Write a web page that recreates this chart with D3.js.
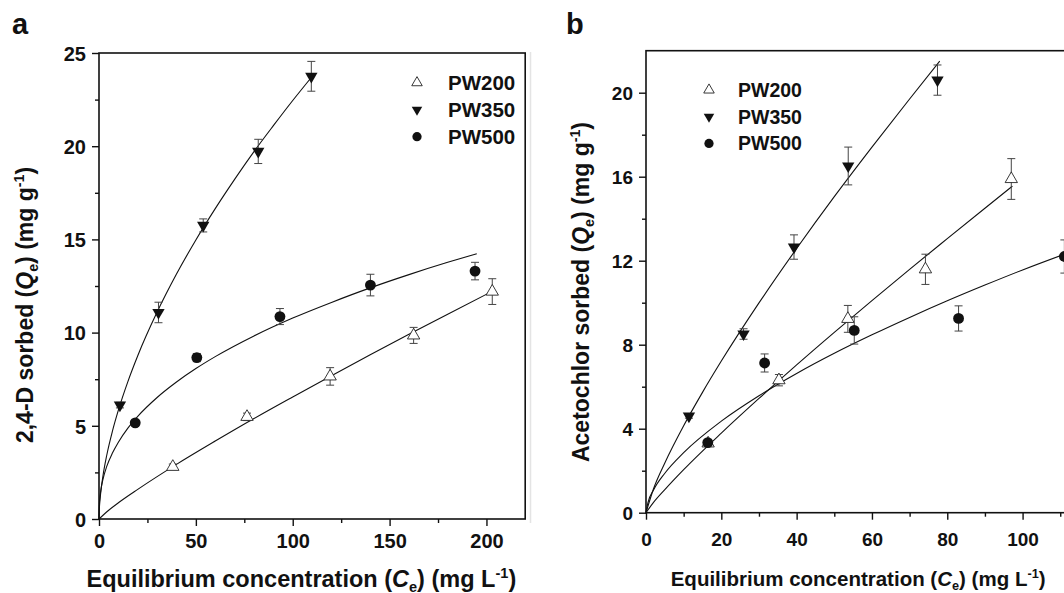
<!DOCTYPE html>
<html>
<head>
<meta charset="utf-8">
<script src="https://cdn.jsdelivr.net/npm/d3@7/dist/d3.min.js"></script>
<style>
  html, body { margin: 0; padding: 0; background: #fff; }
  svg { display: block; }
</style>
</head>
<body>
<div id="chart"></div>
<script>
// Sorption isotherms of 2,4-D (a) and acetochlor (b) on three pine-wood biochars

const seriesNames = ["PW200", "PW350", "PW500"];

// panel a: [Ce, Qe, error]
const aPW200 = [[38.1, 2.80, 0.15], [76.4, 5.48, 0.2], [119.3, 7.65, 0.47], [162.4, 9.85, 0.43], [203, 12.2, 0.69]];
const aPW350 = [[10.8, 6.11, 0.15], [30.7, 11.08, 0.55], [53.8, 15.75, 0.35], [82.2, 19.72, 0.65], [109.6, 23.75, 0.8]];
const aPW500 = [[18.7, 5.16, 0.12], [50.5, 8.66, 0.22], [93.4, 10.86, 0.43], [140.1, 12.55, 0.58], [194.1, 13.3, 0.47]];

// panel a fitted curves: [Ce, Qe]
const aFitPW200 = [[0, 0], [5, 0.47], [10, 0.87], [20, 1.59], [40, 2.93], [60, 4.18], [80, 5.39], [100, 6.55], [120, 7.69], [140, 8.81], [160, 9.91], [180, 10.99], [204, 12.27]];
const aFitPW350 = [[0, 0], [0.2, 0.59], [0.5, 1.01], [1, 1.52], [2, 2.28], [4, 3.42], [7, 4.74], [10, 5.84], [15, 7.4], [20, 8.76], [30, 11.1], [40, 13.14], [50, 14.97], [60, 16.65], [70, 18.22], [80, 19.71], [90, 21.1], [100, 22.45], [110, 23.74]];
const aFitPW500 = [[0, 0], [0.2, 0.81], [0.5, 1.18], [1, 1.58], [2, 2.11], [4, 2.82], [7, 3.55], [10, 4.12], [15, 4.89], [20, 5.51], [30, 6.52], [40, 7.35], [50, 8.07], [60, 8.71], [80, 9.82], [100, 10.78], [120, 11.62], [140, 12.4], [160, 13.11], [180, 13.77], [195, 14.23]];

// panel b: [Ce, Qe, error]
const bPW200 = [[16.5, 3.3, 0.15], [35.3, 6.31, 0.27], [53.6, 9.23, 0.64], [74.2, 11.59, 0.72], [97.0, 15.89, 0.97]];
const bPW350 = [[11.4, 4.6, 0.1], [25.9, 8.51, 0.25], [39.3, 12.65, 0.58], [53.7, 16.51, 0.9], [77.4, 20.6, 0.72]];
const bPW500 = [[16.4, 3.34, 0.1], [31.5, 7.13, 0.43], [55.3, 8.68, 0.65], [83.0, 9.25, 0.6], [111.1, 12.2, 0.79]];

// panel b fitted curves
const bFitPW200 = [[0, 0], [2, 0.49], [5, 1.1], [10, 2.05], [20, 3.79], [30, 5.44], [40, 7.04], [50, 8.59], [60, 10.1], [70, 11.59], [80, 13.05], [90, 14.5], [97.3, 15.55]];
const bFitPW350 = [[0, 0], [2, 1.14], [5, 2.37], [10, 4.14], [15, 5.73], [20, 7.22], [30, 9.99], [40, 12.58], [50, 15.05], [60, 17.41], [70, 19.7], [78, 21.5]];
const bFitPW500 = [[0, 0], [0.5, 0.47], [2, 1.08], [5, 1.88], [10, 2.86], [20, 4.36], [30, 5.57], [40, 6.63], [50, 7.59], [60, 8.47], [70, 9.3], [80, 10.09], [90, 10.84], [100, 11.56], [112, 12.37]];

const aXTicks = [0, 50, 100, 150, 200];
const aXMinor = [25, 75, 125, 175];
const aYTicks = [0, 5, 10, 15, 20, 25];
const aYMinor = [2.5, 7.5, 12.5, 17.5, 22.5];
const bXTicks = [0, 20, 40, 60, 80, 100];
const bXMinor = [10, 30, 50, 70, 90, 110];
const bYTicks = [0, 4, 8, 12, 16, 20];
const bYMinor = [2, 6, 10, 14, 18];

const FONT = '"Liberation Sans", Arial, Helvetica, sans-serif';

const svg = d3.select("#chart").append("svg")
    .attr("width", 1064)
    .attr("height", 593)
    .attr("font-family", FONT)
    .attr("font-weight", "bold");

// faint panel separator seen in the scan
svg.append("line")
    .attr("x1", 530.5).attr("x2", 530.5)
    .attr("y1", 52).attr("y2", 523)
    .attr("stroke", "#e4e4e4")
    .attr("stroke-width", 1.5);

function marker(sel, kind, size) {
    if (kind === "PW200") {
        sel.append("path")
            .attr("d", d3.symbol(d3.symbolTriangle, size)())
            .attr("fill", "#fff")
            .attr("stroke", "#222")
            .attr("stroke-width", 0.9);
    } else if (kind === "PW350") {
        sel.append("path")
            .attr("d", d3.symbol(d3.symbolTriangle, size)())
            .attr("transform", "rotate(180)")
            .attr("fill", "#111");
    } else {
        sel.append("path")
            .attr("d", d3.symbol(d3.symbolCircle, size * 1.4)())
            .attr("fill", "#111");
    }
}

function drawPanel(p) {
    const x = d3.scaleLinear().domain(p.xDomain).range(p.xRange);
    const y = d3.scaleLinear().domain(p.yDomain).range(p.yRange);
    const g = svg.append("g");

    const styleAxis = ax => {
        ax.select(".domain").remove();
        ax.selectAll(".tick line").attr("stroke", "#111").attr("stroke-width", 1.4);
        ax.attr("font-family", FONT).attr("font-weight", "bold").attr("font-size", p.tickFont);
        ax.selectAll("text").attr("fill", "#111");
    };

    // minor ticks
    g.append("g")
        .attr("transform", `translate(0,${p.yRange[0]})`)
        .call(d3.axisBottom(x).tickValues(p.xMinor).tickSize(4).tickFormat(""))
        .call(styleAxis);
    g.append("g")
        .attr("transform", `translate(${p.xRange[0]},0)`)
        .call(d3.axisLeft(y).tickValues(p.yMinor).tickSize(4).tickFormat(""))
        .call(styleAxis);

    // major ticks
    g.append("g")
        .attr("transform", `translate(0,${p.yRange[0]})`)
        .call(d3.axisBottom(x).tickValues(p.xTicks).tickSize(7))
        .call(styleAxis)
        .call(ax => ax.selectAll("text").attr("dy", null).attr("y", p.xLabelOff));
    g.append("g")
        .attr("transform", `translate(${p.xRange[0]},0)`)
        .call(d3.axisLeft(y).tickValues(p.yTicks).tickSize(7))
        .call(styleAxis)
        .call(ax => ax.selectAll("text").attr("dy", "0.36em").attr("x", -p.yLabelGap));

    // frame
    g.append("rect")
        .attr("x", p.xRange[0]).attr("y", p.yRange[1])
        .attr("width", p.xRange[1] - p.xRange[0])
        .attr("height", p.yRange[0] - p.yRange[1])
        .attr("fill", "none")
        .attr("stroke", "#111")
        .attr("stroke-width", 1.6);

    // fitted curves
    const line = d3.line().x(d => x(d[0])).y(d => y(d[1])).curve(d3.curveMonotoneX);
    p.fits.forEach(f => {
        g.append("path")
            .attr("d", line(f))
            .attr("fill", "none")
            .attr("stroke", "#111")
            .attr("stroke-width", 1.1);
    });

    // error bars and markers
    p.series.forEach((data, i) => {
        const name = seriesNames[i];
        const eb = g.append("g").attr("stroke", "#444").attr("stroke-width", 1);
        data.forEach(d => {
            const x0 = x(d[0]), yt = y(d[1] + d[2]), yb = y(d[1] - d[2]);
            eb.append("line").attr("x1", x0).attr("x2", x0).attr("y1", yt).attr("y2", yb);
            eb.append("line").attr("x1", x0 - 4).attr("x2", x0 + 4).attr("y1", yt).attr("y2", yt);
            eb.append("line").attr("x1", x0 - 4).attr("x2", x0 + 4).attr("y1", yb).attr("y2", yb);
        });
        data.forEach(d => {
            const m = g.append("g").attr("transform", `translate(${x(d[0])},${y(d[1])})`);
            marker(m, name, 66);
        });
    });

    // legend
    seriesNames.forEach((name, i) => {
        const ly = p.legend.y + i * p.legend.dy;
        const m = g.append("g").attr("transform", `translate(${p.legend.x},${ly})`);
        marker(m, name, 48);
        g.append("text")
            .attr("x", p.legend.tx)
            .attr("y", ly)
            .attr("dy", "0.36em")
            .attr("font-size", p.legendFont)
            .attr("fill", "#111")
            .text(name);
    });

    // panel letter
    g.append("text")
        .attr("x", p.letter.x).attr("y", p.letter.y)
        .attr("font-size", 29)
        .attr("fill", "#111")
        .text(p.letter.t);

    // x title
    const xt = g.append("text")
        .attr("x", (p.xTitle.x))
        .attr("y", p.xTitle.y)
        .attr("text-anchor", "start")
        .attr("font-size", p.xTitle.size)
        .attr("fill", "#111");
    xt.append("tspan").text("Equilibrium concentration (");
    xt.append("tspan").attr("font-style", "italic").text("C");
    xt.append("tspan").attr("font-size", p.xTitle.size * 0.62).attr("dy", "0.35em").text("e");
    xt.append("tspan").attr("dy", `-${(p.xTitle.size * 0.62 * 0.35).toFixed(2)}`).text(") (mg L");
    xt.append("tspan").attr("font-size", p.xTitle.size * 0.62).attr("dy", "-0.6em").text("-1");
    xt.append("tspan").attr("dy", `${(p.xTitle.size * 0.62 * 0.6).toFixed(2)}`).text(")");

    // y title
    const yt = g.append("text")
        .attr("transform", `translate(${p.yTitle.x},${p.yTitle.y}) rotate(-90)`)
        .attr("text-anchor", "middle")
        .attr("font-size", p.yTitle.size)
        .attr("fill", "#111");
    const s = p.yTitle.size * 0.62;
    yt.append("tspan").text(p.yTitle.t + " (");
    yt.append("tspan").attr("font-style", "italic").text("Q");
    yt.append("tspan").attr("font-size", s).attr("dy", "0.35em").text("e");
    yt.append("tspan").attr("dy", `-${(s * 0.35).toFixed(2)}`).text(") (mg g");
    yt.append("tspan").attr("font-size", s).attr("dy", "-0.6em").text("-1");
    yt.append("tspan").attr("dy", `${(s * 0.6).toFixed(2)}`).text(")");
}

drawPanel({
    xDomain: [0, 220], yDomain: [0, 25],
    xRange: [99, 525.2], yRange: [519, 53],
    xTicks: aXTicks, xMinor: aXMinor, yTicks: aYTicks, yMinor: aYMinor,
    tickFont: 20, xLabelOff: 29, yLabelGap: 13,
    series: [aPW200, aPW350, aPW500],
    fits: [aFitPW200, aFitPW350, aFitPW500],
    legend: { x: 417, y: 82.7, dy: 27, tx: 448 },
    legendFont: 20.5,
    letter: { x: 12, y: 34, t: "a" },
    xTitle: { x: 86.5, y: 587, size: 23.5 },
    yTitle: { x: 33, y: 305, size: 23, t: "2,4-D sorbed" }
});

drawPanel({
    xDomain: [0, 120], yDomain: [0, 22],
    xRange: [646, 1097.9], yRange: [512.7, 50.7],
    xTicks: bXTicks, xMinor: bXMinor, yTicks: bYTicks, yMinor: bYMinor,
    tickFont: 19, xLabelOff: 33, yLabelGap: 13,
    series: [bPW200, bPW350, bPW500],
    fits: [bFitPW200, bFitPW350, bFitPW500],
    legend: { x: 709, y: 90, dy: 26.7, tx: 738 },
    legendFont: 19.5,
    letter: { x: 566, y: 34, t: "b" },
    xTitle: { x: 670.7, y: 585.7, size: 20.5 },
    yTitle: { x: 589, y: 292, size: 23, t: "Acetochlor sorbed" }
});
</script>
</body>
</html>
